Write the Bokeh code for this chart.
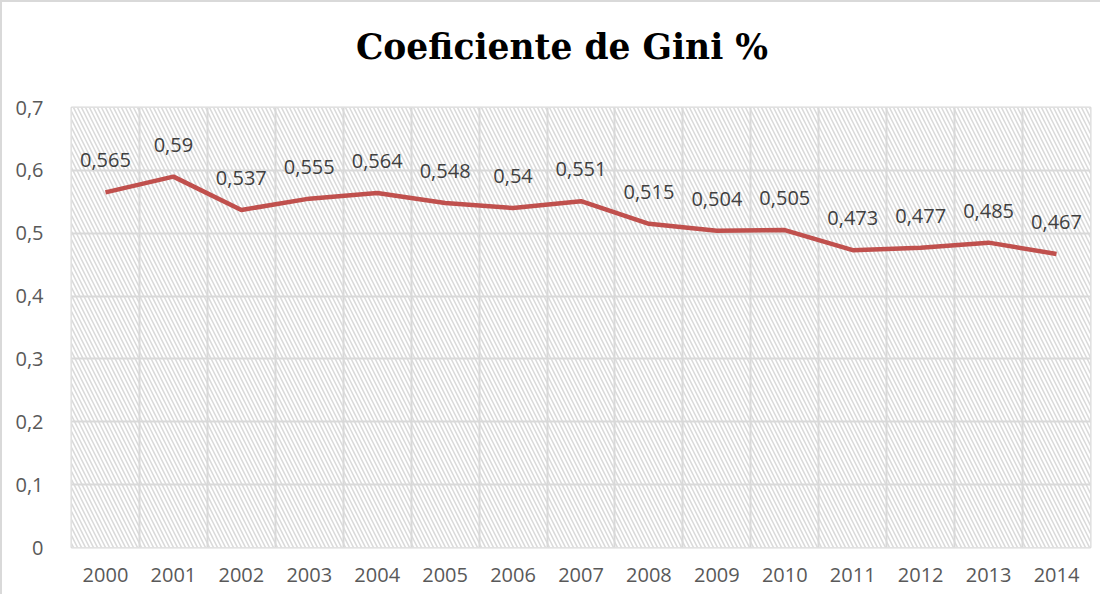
from bokeh.plotting import figure
from bokeh.layouts import column
from bokeh.models import (ColumnDataSource, FixedTicker, BoxAnnotation, Range1d, Label)
from bokeh.core.properties import value
from bokeh.embed import file_html
from bokeh.resources import INLINE

years = ["2000", "2001", "2002", "2003", "2004", "2005", "2006", "2007",
         "2008", "2009", "2010", "2011", "2012", "2013", "2014"]
gini = [0.565, 0.59, 0.537, 0.555, 0.564, 0.548, 0.54, 0.551,
        0.515, 0.504, 0.505, 0.473, 0.477, 0.485, 0.467]
y_ticks = [0, 0.1, 0.2, 0.3, 0.4, 0.5, 0.6, 0.7]
y_tick_labels = ["0", "0,1", "0,2", "0,3", "0,4", "0,5", "0,6", "0,7"]
title_text = "Coeficiente de Gini %"

n = len(years)
xpos = [i + 0.5 for i in range(n)]
labels = [("%g" % v).replace(".", ",") for v in gini]

src = ColumnDataSource(dict(x=xpos, y=gini, label=labels))

W = 1098
TH = 80  # title strip height

# ---- title strip ----
t = figure(width=W, height=TH, output_backend="svg", toolbar_location=None,
           x_range=Range1d(0, W), y_range=Range1d(0, TH),
           x_axis_location=None, y_axis_location=None,
           min_border=0, outline_line_color=None)
t.grid.visible = False
t.background_fill_color = "white"
t.border_fill_color = "white"
t.add_layout(Label(x=528.5, y=TH - 44, text=title_text,
                   text_font="DejaVu Serif", text_font_style="bold",
                   text_font_size="34.5px", text_color="black",
                   text_align="center", text_baseline="alphabetic"))

# ---- main chart ----
p = figure(width=W, height=592 - TH, output_backend="svg", toolbar_location=None,
           x_range=Range1d(0, n), y_range=Range1d(0, y_ticks[-1]),
           min_border_left=69, min_border_right=10, min_border_top=105 - TH,
           min_border_bottom=47)
p.background_fill_color = "white"
p.border_fill_color = "white"
p.outline_line_color = "#d9d9d9"
p.outline_line_width = 2

# hatched plot area
p.add_layout(BoxAnnotation(fill_color="white", fill_alpha=1.0, line_color=None,
                           hatch_pattern="left_diagonal_line", hatch_color="#d9d9d9",
                           hatch_scale=8, hatch_weight=1.5, level="image"))

# axes
p.xaxis.ticker = FixedTicker(ticks=xpos)
p.xaxis.major_label_overrides = {x: y for x, y in zip(xpos, years)}
p.yaxis.ticker = FixedTicker(ticks=y_ticks)
p.yaxis.major_label_overrides = {tk: l for tk, l in zip(y_ticks, y_tick_labels)}
for ax in (p.xaxis, p.yaxis):
    ax.axis_line_color = None
    ax.major_tick_line_color = None
    ax.minor_tick_line_color = None
    ax.major_label_text_font = "Open Sans"
    ax.major_label_text_font_size = "20px"
    ax.major_label_text_color = "#595959"
p.xaxis.major_label_standoff = 14
p.yaxis.major_label_standoff = 22

# grids
p.xgrid.ticker = FixedTicker(ticks=list(range(n + 1)))
p.xgrid.grid_line_color = "#d9d9d9"
p.xgrid.grid_line_width = 2
p.ygrid.ticker = FixedTicker(ticks=y_ticks)
p.ygrid.grid_line_color = "#d9d9d9"
p.ygrid.grid_line_width = 2

p.line("x", "y", source=src, line_color="#C0504D", line_width=4.5)
p.text("x", "y", text="label", source=src, text_font=value("Open Sans"),
       text_font_size="20px", text_color="#404040", text_align="center",
       text_baseline="middle", y_offset=-32)

layout = column(t, p, spacing=0,
                styles={"border-top": "2px solid #d9d9d9",
                        "border-left": "2px solid #d9d9d9"})

open("out.html", "w").write(file_html(layout, INLINE))
